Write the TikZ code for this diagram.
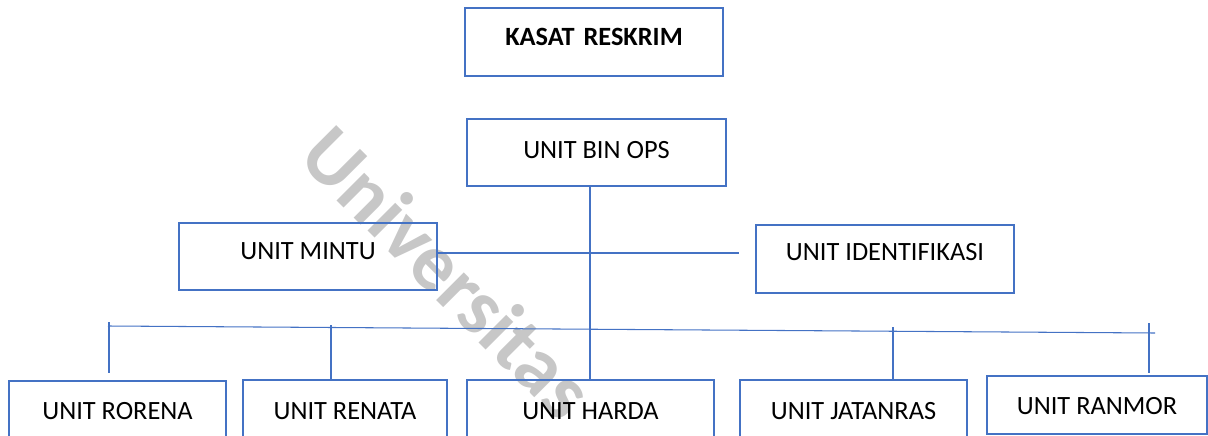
\documentclass[tikz,border=0pt]{standalone}
\usepackage{fontspec}
\setmainfont{Carlito}
\usepackage{tikz}
\usetikzlibrary{calc}
\definecolor{boxblue}{HTML}{4472C4}
\tikzset{
	unitbox/.style={draw=boxblue, line width=1.2pt, inner sep=0pt},
	conn/.style={draw=boxblue, line width=0.6pt},
	every label/.style={font=\fontsize{15}{18}\selectfont, text=black}
}

\begin{document}
\begin{tikzpicture}[x=0.02cm, y=-0.02cm]
		%%%%% START %%%%%
		\useasboundingbox (0, 0) rectangle (1208, 436);
		\clip (0, 0) rectangle (1208, 436);
		
		\node[rotate=-45, text=black!22, font=\bfseries\fontsize{46}{50}\selectfont] (wmark) at (448, 272) {Universitas};
		
		\node[unitbox, minimum width=5.16cm, minimum height=1.36cm, label={[yshift=2.8pt, font=\bfseries\fontsize{15}{18}\selectfont]center:KASAT\,\,RESKRIM}] (kasat) at (594, 42) {};
		\node[unitbox, minimum width=5.18cm, minimum height=1.34cm, label={[yshift=1.4pt]center:UNIT BIN OPS}] (binops) at (596.5, 152.5) {};
		
		\node[unitbox, minimum width=5.16cm, minimum height=1.34cm, label={[yshift=2.8pt]center:UNIT MINTU}] (mintu) at (308, 256.5) {};
		\node[unitbox, minimum width=5.16cm, minimum height=1.36cm, label={[yshift=4pt]center:UNIT IDENTIFIKASI}] (ident) at (885, 259) {};
		
		\node[unitbox, minimum width=4.34cm, minimum height=1.36cm, label={[yshift=2pt]center:UNIT RORENA}] (rorena) at (117.5, 415) {};
		\node[unitbox, minimum width=4.08cm, minimum height=1.36cm, label={[yshift=1.7pt]center:UNIT RENATA}] (renata) at (345, 414) {};
		\node[unitbox, minimum width=4.94cm, minimum height=1.36cm, label={[yshift=1.7pt]center:UNIT HARDA}] (harda) at (590.5, 414) {};
		\node[unitbox, minimum width=4.54cm, minimum height=1.36cm, label={[yshift=1.7pt]center:UNIT JATANRAS}] (jatanras) at (853.5, 414) {};
		\node[unitbox, minimum width=4.40cm, minimum height=1.16cm, label={[yshift=-0.8pt]center:UNIT RANMOR}] (ranmor) at (1097, 405) {};
		
		% bus line and its ticks
		\coordinate (busl) at (108, 326);
		\coordinate (busr) at (1155, 333);
		\coordinate (stem) at (590, 186);
		\coordinate (mintuend) at (739, 253);
		\coordinate (t1) at (109, 322);
		\coordinate (b1) at (109, 373);
		\coordinate (t2) at (331, 325);
		\coordinate (t3) at (893, 327);
		\coordinate (t4) at (1149, 323);
		\coordinate (b4) at (1149, 373);
		
		\draw[conn] (stem |- binops.south) -- (stem |- harda.north);
		\draw[conn] (mintu.east |- mintuend) -- (mintuend);
		\draw[conn] (busl) -- (busr);
		\draw[conn] (t1) -- (b1);
		\draw[conn] (t2) -- (t2 |- renata.north);
		\draw[conn] (t3) -- (t3 |- jatanras.north);
		\draw[conn] (t4) -- (b4);
		%%%%% END %%%%%
\end{tikzpicture}
\end{document}
